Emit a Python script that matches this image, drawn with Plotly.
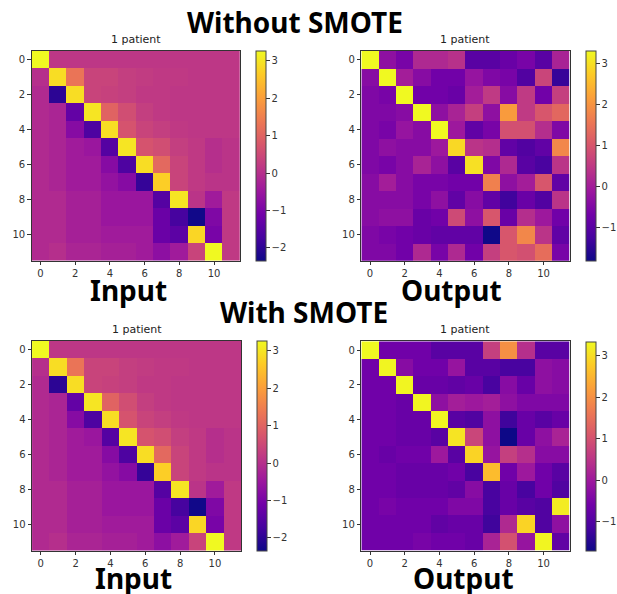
import plotly.graph_objects as go

# Correlation-style input matrix (identical for both runs)
input_matrix = [
    [3.3, 0.15, 0.15, 0.15, 0.15, 0.15, 0.15, 0.15, 0.15, 0.15, 0.15, 0.15],
    [0.0, 2.9, 1.3, 0.4, 0.4, 0.3, 0.25, 0.2, 0.2, 0.15, 0.15, 0.15],
    [-0.1, -2.0, 2.9, 0.4, 0.35, 0.3, 0.2, 0.2, 0.15, 0.15, 0.15, 0.15],
    [-0.1, -0.2, -1.3, 3.0, 1.0, 0.6, 0.3, 0.2, 0.15, 0.15, 0.15, 0.15],
    [-0.1, -0.2, -0.8, -1.6, 2.9, 0.7, 0.4, 0.3, 0.2, 0.15, 0.15, 0.15],
    [-0.1, -0.2, -0.4, -0.5, -1.5, 3.0, 0.7, 0.6, 0.3, 0.2, 0.0, 0.1],
    [-0.1, -0.2, -0.4, -0.4, -0.8, -1.6, 2.9, 1.1, 0.4, 0.2, 0.0, 0.1],
    [-0.1, -0.2, -0.4, -0.4, -0.6, -0.8, -1.9, 2.7, 0.4, 0.2, 0.1, 0.1],
    [-0.1, -0.1, -0.3, -0.3, -0.5, -0.5, -0.5, -1.5, 3.0, 0.1, -0.4, 0.2],
    [-0.1, -0.1, -0.3, -0.3, -0.5, -0.5, -0.5, -1.2, -1.7, -2.3, -0.9, 0.2],
    [-0.1, -0.1, -0.3, -0.3, -0.4, -0.4, -0.4, -1.2, -1.4, 2.8, -1.0, 0.2],
    [-0.1, 0.0, -0.2, -0.2, -0.3, -0.3, -0.4, -0.7, -0.4, 0.4, 3.3, 0.2],
]

output_without_smote = [
    [3.3, -0.3, -0.6, 0.2, 0.2, 0.35, -1.0, -1.0, -0.8, -0.6, -1.0, 0.1],
    [-0.4, 3.3, 0.0, -0.4, -0.7, -0.7, -0.2, -0.5, -0.6, -1.1, 0.7, -1.4],
    [-0.5, -0.6, 3.3, -0.7, -0.7, -0.8, 0.0, 0.5, -0.4, 0.5, -0.7, 0.6],
    [-0.5, -0.5, -0.4, 3.3, -0.3, 0.1, 0.6, -0.3, 2.1, 0.5, 1.0, 1.3],
    [-0.5, -0.6, -0.2, -0.4, 3.3, -0.1, -0.9, -0.6, 0.9, 0.9, 0.3, -0.5],
    [-0.5, -0.3, -0.4, -0.4, -0.1, 2.9, 0.4, 0.3, -0.9, -1.1, -0.9, 1.8],
    [-0.5, -0.6, -0.4, 0.1, -0.3, -1.0, 3.0, -0.5, 0.2, -1.0, -1.2, 0.4],
    [-0.4, 0.0, -0.4, -0.6, -0.6, -0.7, -0.7, 1.7, -0.3, 0.0, 1.0, -0.9],
    [-0.4, -0.4, -0.4, -0.6, -0.3, -0.9, -0.4, -0.9, -1.3, -0.8, -1.1, 0.4],
    [-0.4, -0.3, -0.3, -0.8, -0.7, 0.8, -0.3, 1.0, -0.8, 0.3, -0.1, -0.7],
    [-0.5, -0.6, -0.7, -0.8, -0.9, -0.9, -0.9, -1.8, 1.0, 1.8, 0.4, -0.9],
    [-0.5, -0.5, -0.7, 0.2, -0.6, 0.2, -0.7, 0.6, 1.0, 0.9, 1.4, -0.6],
]

output_with_smote = [
    [3.35, -0.6, -0.6, -0.6, -0.9, -0.9, -0.9, 0.7, 2.0, 0.4, -0.9, -0.9],
    [-0.6, 3.3, -0.3, -0.6, -0.6, -0.1, -0.9, -0.9, -1.1, -1.1, -0.2, -0.3],
    [-0.6, -0.6, 3.3, -0.7, -0.7, -0.8, -0.7, -1.1, -0.3, -0.7, -0.2, -0.3],
    [-0.6, -0.6, -0.7, 3.3, -0.2, 0.1, 0.0, 0.1, -0.2, -0.4, -0.4, -0.4],
    [-0.6, -0.6, -0.7, -0.7, 3.3, -0.9, -1.0, -0.2, -1.2, -0.7, -0.9, -0.7],
    [-0.6, -0.6, -0.7, -0.7, -0.9, 3.1, 0.8, -0.2, -1.7, -0.7, -0.2, 0.2],
    [-0.6, -0.7, -0.6, -0.6, 0.0, -0.9, 2.9, -0.1, 0.7, 0.4, -0.3, -0.3],
    [-0.6, -0.6, -0.7, -0.7, -0.7, -0.6, -1.1, 2.6, -0.6, 0.0, -0.6, -0.9],
    [-0.6, -0.6, -0.7, -0.7, -0.7, -0.8, -0.3, -1.1, -0.7, -1.1, -0.6, -1.0],
    [-0.6, -0.5, -0.6, -0.6, -0.6, -0.4, -0.4, -1.1, -0.7, -0.9, -1.0, 3.2],
    [-0.6, -0.6, -0.6, -0.6, -0.8, -0.7, -0.7, -1.2, 0.3, 2.9, -1.0, -0.2],
    [-0.6, -0.6, -0.6, -0.5, -0.6, -0.6, -0.7, 0.2, 1.0, -0.1, 3.3, -0.8],
]

indices = list(range(12))
tick_positions = [0, 2, 4, 6, 8, 10]
subplot_title = "1 patient"

W, H = 617, 594

# (matrix, zmin, zmax, colorbar ticks, axes box in pixels: left, right, top, bottom)
panels = [
    (input_matrix, -2.34, 3.27, [-2, -1, 0, 1, 2, 3], (32, 242, 50.7, 260.7)),
    (output_without_smote, -1.82, 3.3, [-1, 0, 1, 2, 3], (364.3, 574.3, 51, 260.7)),
    (input_matrix, -2.34, 3.27, [-2, -1, 0, 1, 2, 3], (32.3, 243, 340.7, 550.7)),
    (output_with_smote, -1.7, 3.35, [-1, 0, 1, 2, 3], (364.3, 574.3, 341.3, 550.7)),
]

tick_font = dict(family="DejaVu Sans", size=10, color="#333333")
fig = go.Figure()
annotations = []

for i, (z, zmin, zmax, cticks, (l, r, t, b)) in enumerate(panels):
    n = "" if i == 0 else str(i + 1)
    cb_left = r + 16.5
    fig.add_trace(go.Heatmap(
        z=z, x=indices, y=indices,
        colorscale="Plasma", zmin=zmin, zmax=zmax,
        xaxis="x" + n, yaxis="y" + n,
        hoverinfo="skip",
        colorbar=dict(
            x=cb_left / W, xanchor="left", xpad=0, ypad=0,
            y=1 - (t + b) / 2 / H, yanchor="middle",
            len=b - t, lenmode="pixels", thickness=10,
            outlinewidth=1, outlinecolor="#444444",
            tickvals=cticks, ticks="outside", ticklen=3.5,
            tickcolor="#333333", tickfont=tick_font,
        ),
    ))
    axis_common = dict(
        showgrid=False, zeroline=False, showline=True, mirror=True,
        linecolor="#333333", linewidth=1, ticks="outside", ticklen=3.5,
        tickcolor="#333333", tickfont=tick_font, tickvals=tick_positions,
    )
    fig.update_layout(**{
        "xaxis" + n: dict(domain=[l / W, r / W], range=[-0.5, 11.5],
                          anchor="y" + n, **axis_common),
        "yaxis" + n: dict(domain=[1 - b / H, 1 - t / H], range=[11.5, -0.5],
                          anchor="x" + n, **axis_common),
    })
    annotations.append(dict(
        text=subplot_title, x=(l + r) / 2 / W, y=1 - (t - 3) / H,
        xref="paper", yref="paper", xanchor="center", yanchor="bottom",
        showarrow=False, font=dict(family="DejaVu Sans", size=11, color="#222222"),
    ))

big_font = dict(family="Noto Sans", size=28, color="#000000", weight="bold")
headings = [
    ("Without SMOTE", 297, 22),
    ("Input", 129.5, 290),
    ("Output", 455, 290),
    ("With SMOTE", 306, 312),
    ("Input", 134.5, 578),
    ("Output", 467, 578),
]
for text, cx, cy in headings:
    annotations.append(dict(
        text=text, x=cx / W, y=1 - cy / H, xref="paper", yref="paper",
        xanchor="center", yanchor="middle", showarrow=False, font=big_font,
    ))

fig.update_layout(
    width=W, height=H, margin=dict(l=0, r=0, t=0, b=0),
    paper_bgcolor="white", plot_bgcolor="white",
    annotations=annotations,
)

fig.write_html("out.html")
